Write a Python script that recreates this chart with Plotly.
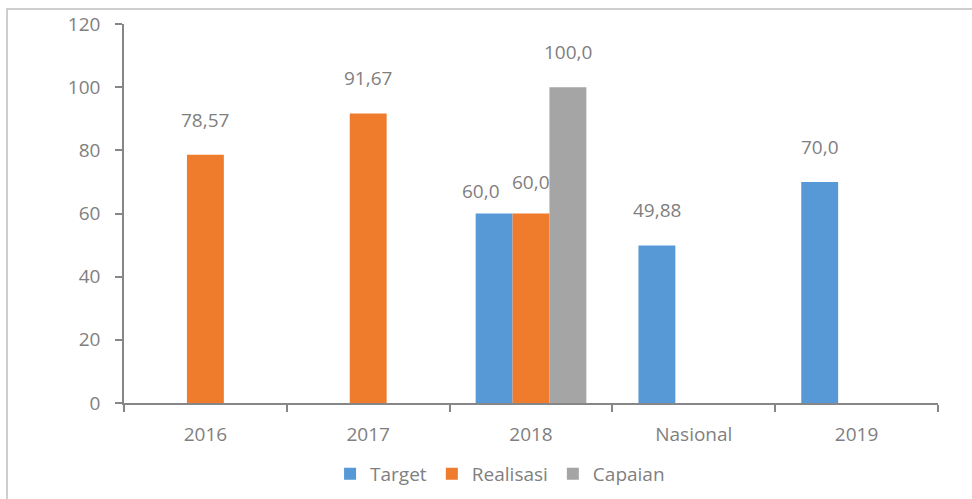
import plotly.graph_objects as go

categories = ["2016", "2017", "2018", "Nasional", "2019"]
target = [0, 0, 60.0, 49.88, 70.0]
realisasi = [78.57, 91.67, 60.0, 0, 0]
capaian = [0, 0, 100.0, 0, 0]
target_lbl = ["", "", "60,0", "49,88", "70,0"]
realisasi_lbl = ["78,57", "91,67", "60,0", "", ""]
capaian_lbl = ["", "", "100,0", "", ""]

series = [
    ("Target", target, target_lbl, "#5699d6"),
    ("Realisasi", realisasi, realisasi_lbl, "#ef7b2c"),
    ("Capaian", capaian, capaian_lbl, "#a5a5a5"),
]

FONT = "Open Sans, Noto Sans, sans-serif"
GRAY = "#7f7f7f"
FS = 19
bargap = 0.32
bw = (1 - bargap) / 3

fig = go.Figure()
annotations = []
for si, (name, vals, lbls, col) in enumerate(series):
    fig.add_trace(go.Bar(
        name=name, x=categories, y=vals,
        marker=dict(color=col, line=dict(width=0)),
    ))
    for ci, (v, t) in enumerate(zip(vals, lbls)):
        if not t:
            continue
        xoff = (si - 1) * bw
        ys = 35
        # avoid overlapping labels in 2018 group (like the original)
        if categories[ci] == "2018" and name == "Target":
            xoff -= 0.08
            ys = 23
        elif categories[ci] == "2018" and name == "Realisasi":
            ys = 32
        annotations.append(dict(
            x=ci + xoff, y=v, xref="x", yref="y", text=t, showarrow=False,
            yshift=ys, font=dict(family=FONT, size=FS, color=GRAY),
        ))

fig.update_layout(
    barmode="group", bargap=bargap, bargroupgap=0,
    width=972, height=499,
    margin=dict(l=124, r=34, t=24, b=96, autoexpand=False),
    paper_bgcolor="white", plot_bgcolor="white",
    font=dict(family=FONT, size=FS, color=GRAY),
    showlegend=True,
    legend=dict(orientation="h", x=0.462, xanchor="center", y=-0.187, yanchor="middle",
                font=dict(family=FONT, size=FS, color=GRAY), itemwidth=30,
                traceorder="normal"),
    annotations=annotations,
    shapes=[dict(type="rect", xref="paper", yref="paper",
                 x0=-0.1437, x1=1.06, y0=-0.3, y1=1.0396,
                 line=dict(color="#bfbfbf", width=1.5), fillcolor="rgba(0,0,0,0)", layer="below")],
)
fig.update_xaxes(
    type="category", showline=True, linecolor="#868686", linewidth=1.5,
    ticks="outside", tickson="boundaries", ticklen=7, tickcolor="#868686", tickwidth=1.5,
    showgrid=False, tickfont=dict(family=FONT, size=FS, color=GRAY),
    ticklabelstandoff=13,
)
fig.update_yaxes(
    range=[0, 120], dtick=20, showline=True, linecolor="#868686", linewidth=1.5,
    ticks="outside", ticklen=7, tickcolor="#868686", tickwidth=1.5,
    showgrid=False, zeroline=False, tickfont=dict(family=FONT, size=FS, color=GRAY),
    ticklabelstandoff=11,
)

fig.write_html("out.html", post_script="document.body.style.margin='0';",
               config={"displayModeBar": False})
